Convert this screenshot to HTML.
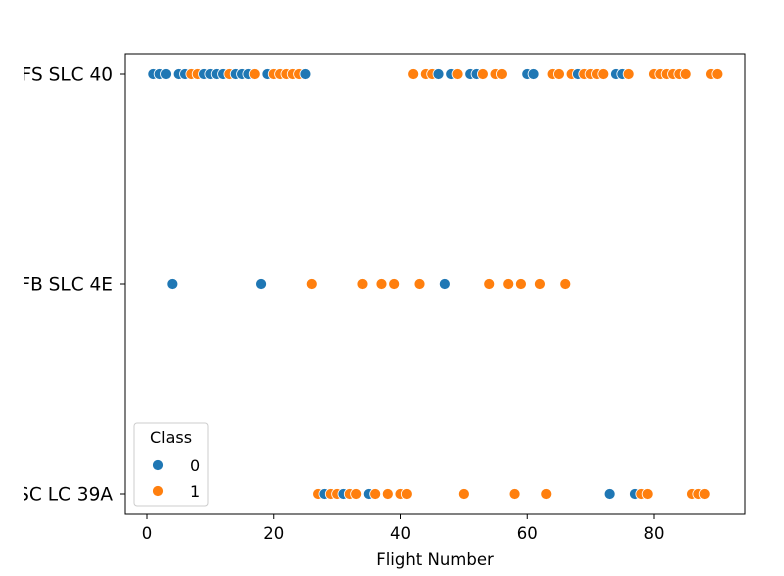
<!DOCTYPE html>
<html><head><meta charset="utf-8"><style>body{margin:0;background:#fff}svg{font-family:"DejaVu Sans","Liberation Sans",sans-serif}</style></head>
<body>
<svg width="784" height="571">
<defs><clipPath id="lc"><rect x="24" y="0" width="760" height="571"/></clipPath></defs>
<rect x="125" y="54" width="620" height="460" fill="none" stroke="#000" stroke-width="1"/>
<g id="ticks"></g><g id="ylabels" clip-path="url(#lc)"></g><g id="pts"></g>
<text x="435" y="565" font-size="16.5" text-anchor="middle">Flight Number</text>
<g>
<rect x="134" y="423" width="74" height="83" rx="3" fill="#fff" fill-opacity="0.8" stroke="#ccc"/>
<text x="171" y="443" font-size="16" text-anchor="middle">Class</text>
<circle cx="158" cy="465" r="5.5" fill="#1f77b4" stroke="#fff" stroke-width="0.8"/>
<text x="190" y="471" font-size="16">0</text>
<circle cx="158" cy="491" r="5.5" fill="#ff7f0e" stroke="#fff" stroke-width="0.8"/>
<text x="190" y="497" font-size="16">1</text>
</g>
</svg>
<script>
const sites=["CCAFS SLC 40","VAFB SLC 4E","KSC LC 39A"];
const xTicks=[0,20,40,60,80];
const ccafsFlights=[1,2,3,5,6,7,8,9,10,11,12,13,14,15,16,17,19,20,21,22,23,24,25,42,44,45,46,48,49,51,52,53,55,56,60,61,64,65,67,68,69,70,71,72,74,75,76,80,81,82,83,84,85,89,90];
const ccafsClass=[0,0,0,0,0,1,1,0,0,0,0,1,0,0,0,1,0,1,1,1,1,1,0,1,1,1,0,0,1,0,0,1,1,1,0,0,1,1,1,0,1,1,1,1,0,0,1,1,1,1,1,1,1,1,1];
const vafbFlights=[4,18,26,34,37,39,43,47,54,57,59,62,66];
const vafbClass=[0,0,1,1,1,1,1,0,1,1,1,1,1];
const kscFlights=[27,28,29,30,31,32,33,35,36,38,40,41,50,58,63,73,77,78,79,86,87,88];
const kscClass=[1,0,1,1,0,1,1,0,1,1,1,1,1,1,1,0,0,1,1,1,1,1];
const NS="http://www.w3.org/2000/svg";
const xs=v=>147+v*6.3375, ys=i=>74+i*210;
const colors=["#1f77b4","#ff7f0e"];
const tk=document.getElementById('ticks'), yl=document.getElementById('ylabels'), pg=document.getElementById('pts');
function mk(t,a,p){const e=document.createElementNS(NS,t);for(const k in a)e.setAttribute(k,a[k]);p.appendChild(e);return e;}
xTicks.forEach(v=>{const l=mk('line',{x1:xs(v),x2:xs(v),y1:514,y2:519,stroke:'#000'},tk);


const t=mk('text',{x:xs(v),y:539,'font-size':16.5,'text-anchor':'middle'},tk);t.textContent=v;

});
sites.forEach((s,i)=>{const l=mk('line',{x1:120,x2:125,y1:ys(i),y2:ys(i),stroke:'#000'},tk);


const t=mk('text',{x:113,y:ys(i)+6.5,'font-size':18.5,'text-anchor':'end'},yl);t.textContent=s;

});
[[ccafsFlights,ccafsClass],[vafbFlights,vafbClass],[kscFlights,kscClass]].forEach((d,i)=>{
d[0].forEach((f,j)=>{const c=mk('circle',{cx:xs(f),cy:ys(i),r:5.5,fill:colors[d[1][j]],stroke:'#fff','stroke-width':0.8},pg);

});});
</script>
</body></html>
